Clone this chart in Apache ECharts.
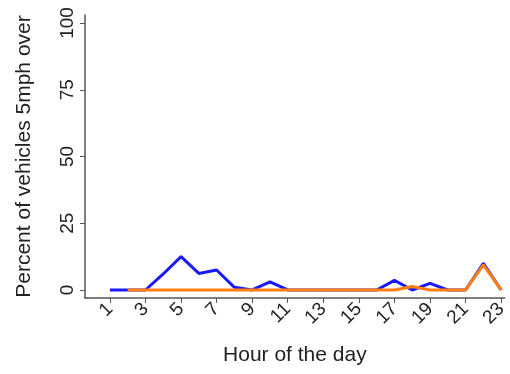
<!DOCTYPE html>
<html><head><meta charset="utf-8">
<script src="https://cdn.jsdelivr.net/npm/echarts@6/dist/echarts.min.js"></script>
<style>html,body{margin:0;padding:0;background:#fff}#c{width:510px;height:374px}</style>
</head><body><div id="c"></div>
<script>
const hours = [1,2,3,4,5,6,7,8,9,10,11,12,13,14,15,16,17,18,19,20,21,22,23];
const blueValues = [0,0,0,6,12.5,6.2,7.5,1,0,3,0,0,0,0,0,0,3.6,0,2.5,0,0,10,0];
const orangeValues = [null,0,0,0,0,0,0,0,0,0,0,0,0,0,0,0,0,1.3,0,0,0,9.4,0];
const xTicks = [1,3,5,7,9,11,13,15,17,19,21,23];
const yTicks = [0,25,50,75,100];

const chart = echarts.init(document.getElementById('c'));
const font = 'Liberation Sans, Arial, sans-serif';
chart.setOption({
  animation:false,
  backgroundColor:'#fff',
  grid:{left:85,right:2,top:15,bottom:76},
  xAxis:{type:'value',min:-0.4,max:23.2,
    name:'Hour of the day',nameLocation:'middle',nameGap:47,
    nameTextStyle:{fontFamily:font,fontSize:21,color:'#222'},
    axisLine:{onZero:false,lineStyle:{color:'#555',width:1.5}},
    axisTick:{customValues:xTicks,length:5,lineStyle:{color:'#555'}},
    axisLabel:{customValues:xTicks,rotate:45,fontFamily:font,fontSize:19,color:'#222',margin:8},
    splitLine:{show:false}},
  yAxis:{type:'value',min:-3,max:103,
    name:'Percent of vehicles 5mph over',nameLocation:'middle',nameGap:50,
    nameTextStyle:{fontFamily:font,fontSize:21,color:'#222'},
    axisLine:{show:true,onZero:false,lineStyle:{color:'#555',width:1.5}},
    axisTick:{show:true,customValues:yTicks,length:5,lineStyle:{color:'#555'}},
    axisLabel:{customValues:yTicks,rotate:90,fontFamily:font,fontSize:19,color:'#222',margin:8},
    splitLine:{show:false}},
  series:[
    {type:'line',data:hours.map((h,i)=>[h,blueValues[i]]),showSymbol:false,
     lineStyle:{color:'#1a1aff',width:3},itemStyle:{color:'#1a1aff'}},
    {type:'line',data:hours.map((h,i)=>[h,orangeValues[i]]),showSymbol:false,
     lineStyle:{color:'#ff7f0e',width:3},itemStyle:{color:'#ff7f0e'}}
  ]
});
</script></body></html>
